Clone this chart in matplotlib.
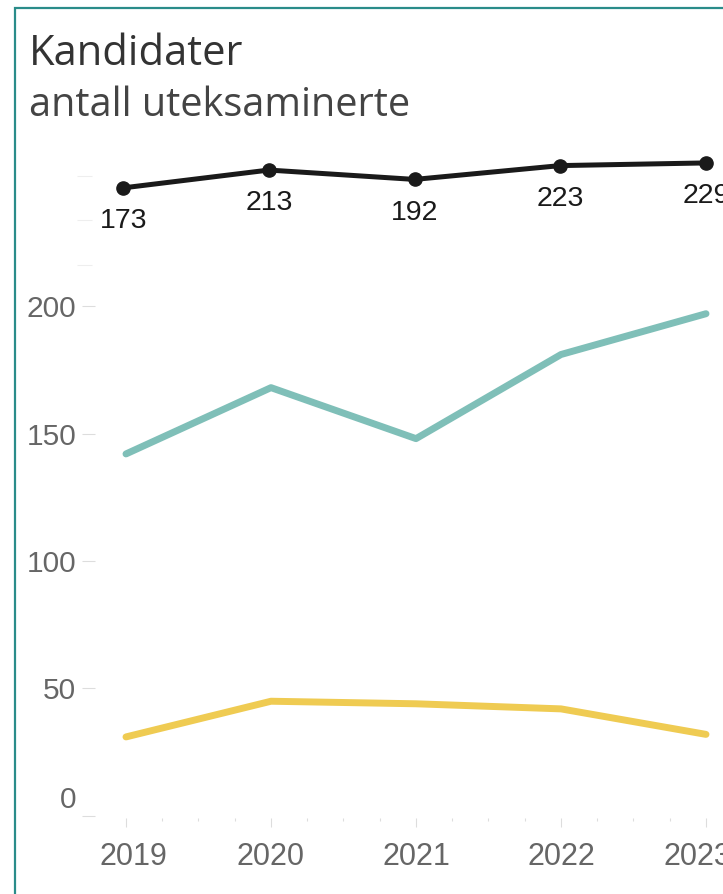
import matplotlib.pyplot as plt
import matplotlib.transforms as mtransforms
from matplotlib.patches import Rectangle

# data
years = [2019, 2020, 2021, 2022, 2023]
total = [173, 213, 192, 223, 229]
teal_vals = [142, 168, 148, 181, 197]
yellow_vals = [31, 45, 44, 42, 32]

W, H = 723, 894
fig = plt.figure(figsize=(W / 100, H / 100), dpi=100)
fig.patch.set_facecolor('white')


def px_axes(left, top, right, bottom):
    return fig.add_axes([left / W, 1 - bottom / H, (right - left) / W, (bottom - top) / H])


# border of the dashboard tile
fig.patches.append(Rectangle((15 / W, -0.1), 1.2, 1 - 8 / H + 0.1, transform=fig.transFigure,
                             fill=False, edgecolor='#2a8c8a', linewidth=1.6))

fig.text(29 / W, 1 - 65 / H, "Kandidater", fontsize=30, family='Open Sans',
         weight='medium', color='#333333', va='baseline')
fig.text(29 / W, 1 - 116 / H, "antall uteksaminerte", fontsize=28.5, family='Open Sans',
         color='#444444', va='baseline')

xlim = (2019 - 31 / 145, 2023 + 17 / 145)
tick_col = '#dddddd'
lab_col = '#666666'

# top pane: totals
ax_top = px_axes(92, 150, 723, 265)
ax_top.plot(years, total, color='#1a1a1a', lw=3.6, marker='o', ms=9.5,
            solid_capstyle='round', clip_on=False)
for x, v in zip(years, total):
    ax_top.annotate(str(v), (x, v), xytext=(0, -24), textcoords='offset points',
                    ha='center', va='center', fontsize=20.5, family='Liberation Sans',
                    color='#1a1a1a', annotation_clip=False)
ax_top.set_xticks([])
ax_top.set_xlim(xlim)
ax_top.set_ylim(0, 258)
ax_top.set_yticks([0, 100, 200])
ax_top.set_yticklabels([])
ax_top.tick_params(axis='y', length=11, width=0.8, color='#eeeeee')
for s in ax_top.spines.values():
    s.set_visible(False)
ax_top.patch.set_alpha(0)

# main pane
ax = px_axes(95, 290, 723, 818)
ax.plot(years, teal_vals, color='#7fbfb8', lw=5, solid_capstyle='round')
ax.plot(years, yellow_vals, color='#efcb52', lw=5, solid_capstyle='round')
ax.set_yticks([0, 50, 100, 150, 200])
ax.set_yticklabels(['', '50', '100', '150', '200'], fontsize=21.5,
                   family='Liberation Sans', color=lab_col)
ax.set_xticks(years)
ax.set_xticklabels([])
ax.set_xticks([y + q for y in years for q in (0.25, 0.5, 0.75)], minor=True)
ax.set_xlim(xlim)
ax.set_ylim(-0.8, 206.3)
ax.tick_params(axis='y', length=9.5, width=0.8, color=tick_col, pad=4)
ax.tick_params(axis='x', which='major', length=6.5, width=0.8, color=tick_col)
ax.tick_params(axis='x', which='minor', length=2.5, width=0.8, color=tick_col)
for s in ax.spines.values():
    s.set_visible(False)

# year labels: the outer ones are nudged inwards like in the reference
nudge = [7, 0, 0, 0, -9]
for y, dx in zip(years, nudge):
    ax.annotate(str(y), (y, 0), xycoords=ax.get_xaxis_transform(),
                xytext=(dx / 1.389, -28), textcoords='offset points',
                ha='center', va='center', fontsize=22, family='Liberation Sans',
                color=lab_col, annotation_clip=False)

# "0" label sits a bit above its tick in the reference
off = mtransforms.ScaledTranslation(0, 16 / 100, fig.dpi_scale_trans)
ax.text(-0.0303, 0, '0', transform=ax.get_yaxis_transform() + off, ha='right', va='center',
        fontsize=21.5, family='Liberation Sans', color=lab_col)

fig.savefig('out.png', dpi=100)
